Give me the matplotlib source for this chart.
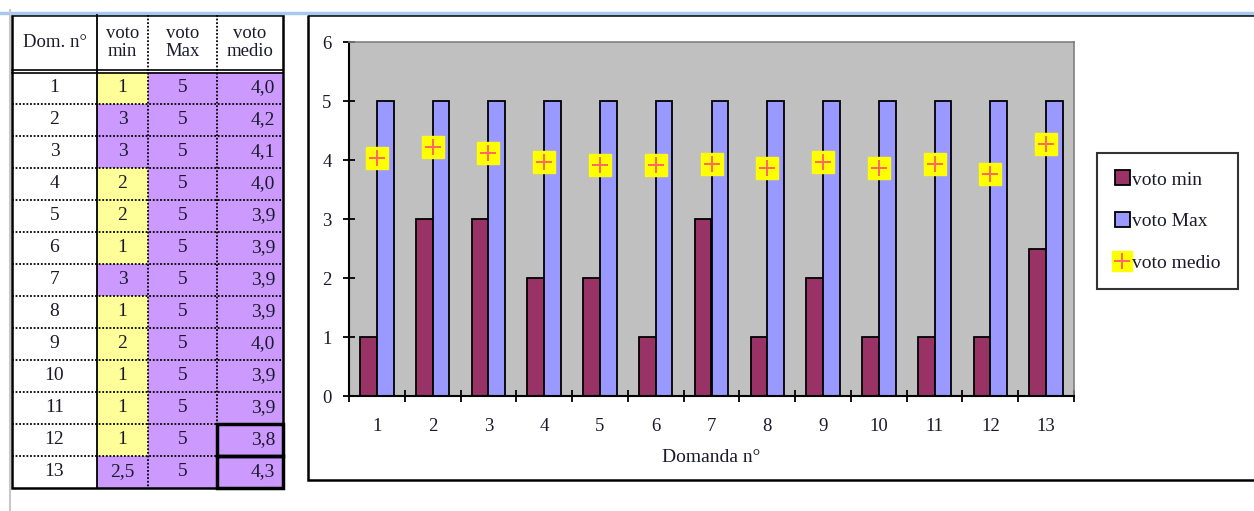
import numpy as np
import matplotlib.pyplot as plt
from matplotlib.patches import Rectangle, Patch
from matplotlib.lines import Line2D

plt.rcParams['font.family'] = ['Liberation Serif', 'DejaVu Serif']

domande = list(range(1, 14))
voto_min = [1, 3, 3, 2, 2, 1, 3, 1, 2, 1, 1, 1, 2.5]
voto_max = [5, 5, 5, 5, 5, 5, 5, 5, 5, 5, 5, 5, 5]
voto_medio = [4.03, 4.22, 4.12, 3.97, 3.92, 3.92, 3.93, 3.86, 3.96, 3.86, 3.93, 3.76, 4.27]
intest = ['Dom. n°', 'voto\nmin', 'voto\nMax', 'voto\nmedio']

c_min = '#993366'
c_max = '#9999FF'
c_bg = '#C0C0C0'
giallo = '#FFFF99'
viola = '#CC99FF'
txt = '#1a1a2a'

fig = plt.figure(figsize=(12.54, 5.11), dpi=100)

# overlay in pixel coords for the table and the frames
ov = fig.add_axes([0, 0, 1, 1])
ov.set_xlim(0, 1254)
ov.set_ylim(511, 0)
ov.axis('off')

ov.plot([0, 1254], [13, 13], color='#a8c8f0', lw=2.5)
ov.plot([10, 10], [10, 511], color='#c8c8c8', lw=1.5)

# table
xs = [12, 97, 148, 217, 283]
y_top, y_head = 15, 72
rh = 32.0
n = len(domande)
y_bot = y_head + rh * n

def fmt(v):
    s = ('%d' % v) if float(v).is_integer() else ('%.1f' % v)
    return s.replace('.', ',')

for i in range(n):
    y0 = y_head + rh * i
    col_min = giallo if voto_min[i] <= 2 else viola
    ov.add_patch(Rectangle((xs[1], y0), xs[2] - xs[1], rh, fc=col_min, ec='none'))
    ov.add_patch(Rectangle((xs[2], y0), xs[4] - xs[2], rh, fc=viola, ec='none'))
    yc = y0 + rh / 2
    vals = [str(domande[i]), fmt(voto_min[i]), fmt(voto_max[i]), '%.1f' % voto_medio[i]]
    for j, v in enumerate(vals):
        v = v.replace('.', ',')
        if j == 3:
            ov.text(xs[4] - 8, yc, v, ha='right', va='center', fontsize=14, color=txt)
        else:
            ov.text((xs[j] + xs[j + 1]) / 2, yc, v, ha='center', va='center', fontsize=14, color=txt)
    if i < n - 1:
        ov.plot([xs[0], xs[4]], [y0 + rh, y0 + rh], color='k', lw=1.3, ls=(0, (1, 1)))

for j, h in enumerate(intest):
    ov.text((xs[j] + xs[j + 1]) / 2, (y_top + y_head) / 2 - 1, h, ha='center', va='center',
            fontsize=13.5, color=txt, linespacing=1.0)

for x in xs[2:4]:
    ov.plot([x, x], [y_top, y_bot], color='k', lw=1.3, ls=(0, (1, 1)))
ov.plot([xs[1], xs[1]], [y_top, y_bot], color='k', lw=1.3)
ov.plot([xs[0], xs[4]], [y_head - 2, y_head - 2], color='k', lw=1.2)
ov.plot([xs[0], xs[4]], [y_head + 1, y_head + 1], color='k', lw=1.2)
ov.add_patch(Rectangle((xs[0], y_top), xs[4] - xs[0], y_bot - y_top, fc='none', ec='k', lw=1.8))
for i in (n - 2, n - 1):
    ov.add_patch(Rectangle((xs[3], y_head + rh * i), xs[4] - xs[3], rh, fc='none', ec='k', lw=2.5))

# chart frame
ov.add_patch(Rectangle((308, 15), 1000, 465, fc='none', ec='k', lw=1.8))

# chart
ax = fig.add_axes([349 / 1254, 115 / 511, 725 / 1254, 354 / 511])
ax.set_facecolor(c_bg)
x = np.arange(1, n + 1)
w = 0.3
ax.bar(x - w / 2, voto_min, w, color=c_min, edgecolor='k', lw=1.3, label='voto min')
ax.bar(x + w / 2, voto_max, w, color=c_max, edgecolor='k', lw=1.3, label='voto Max')
ax.plot(x, voto_medio, ls='none', marker='s', ms=16, mfc='#FFFF00', mec='#FFFF00', zorder=3)
ax.plot(x, voto_medio, ls='none', marker='+', ms=12, mew=1.4, color='#FF6666', zorder=4)

ax.set_xlim(0.5, n + 0.5)
ax.set_ylim(0, 6)
ax.set_yticks(range(7))
ax.set_xticks(x)
ax.set_xticks(np.arange(0.5, n + 1, 1), minor=True)
ax.tick_params(axis='x', which='major', length=0, pad=16, labelsize=13.5, labelcolor=txt)
ax.tick_params(axis='x', which='minor', direction='inout', length=9, width=1.3)
ax.tick_params(axis='y', direction='inout', length=9, width=1.3, pad=8, labelsize=13.5, labelcolor=txt)
for s in ('left', 'bottom'):
    ax.spines[s].set_linewidth(1.5)
    ax.spines[s].set_color('k')
for s in ('top', 'right'):
    ax.spines[s].set_color('#808080')
    ax.spines[s].set_linewidth(1.2)
ax.set_xlabel('Domanda n°', fontsize=14, color=txt, labelpad=10)

h_min = Patch(fc=c_min, ec='k', lw=1.3)
h_max = Patch(fc=c_max, ec='k', lw=1.3)
h_med = (Line2D([], [], ls='none', marker='s', ms=14, mfc='#FFFF00', mec='#FFFF00'),
         Line2D([], [], ls='none', marker='+', ms=12, mew=1.4, color='#FF6666'))
leg = fig.legend([h_min, h_max, h_med], ['voto min', 'voto Max', 'voto medio'],
                 loc='upper left', bbox_to_anchor=(1097 / 1254, 1 - 153 / 511),
                 fontsize=14, frameon=True, fancybox=False, edgecolor='k',
                 handlelength=0.8, handleheight=0.8, handletextpad=0.1,
                 labelspacing=1.2, borderpad=0.9, borderaxespad=0)
leg.get_frame().set_linewidth(1.5)
for t in leg.get_texts():
    t.set_color(txt)

fig.savefig('out.png', dpi=100, facecolor='white')
